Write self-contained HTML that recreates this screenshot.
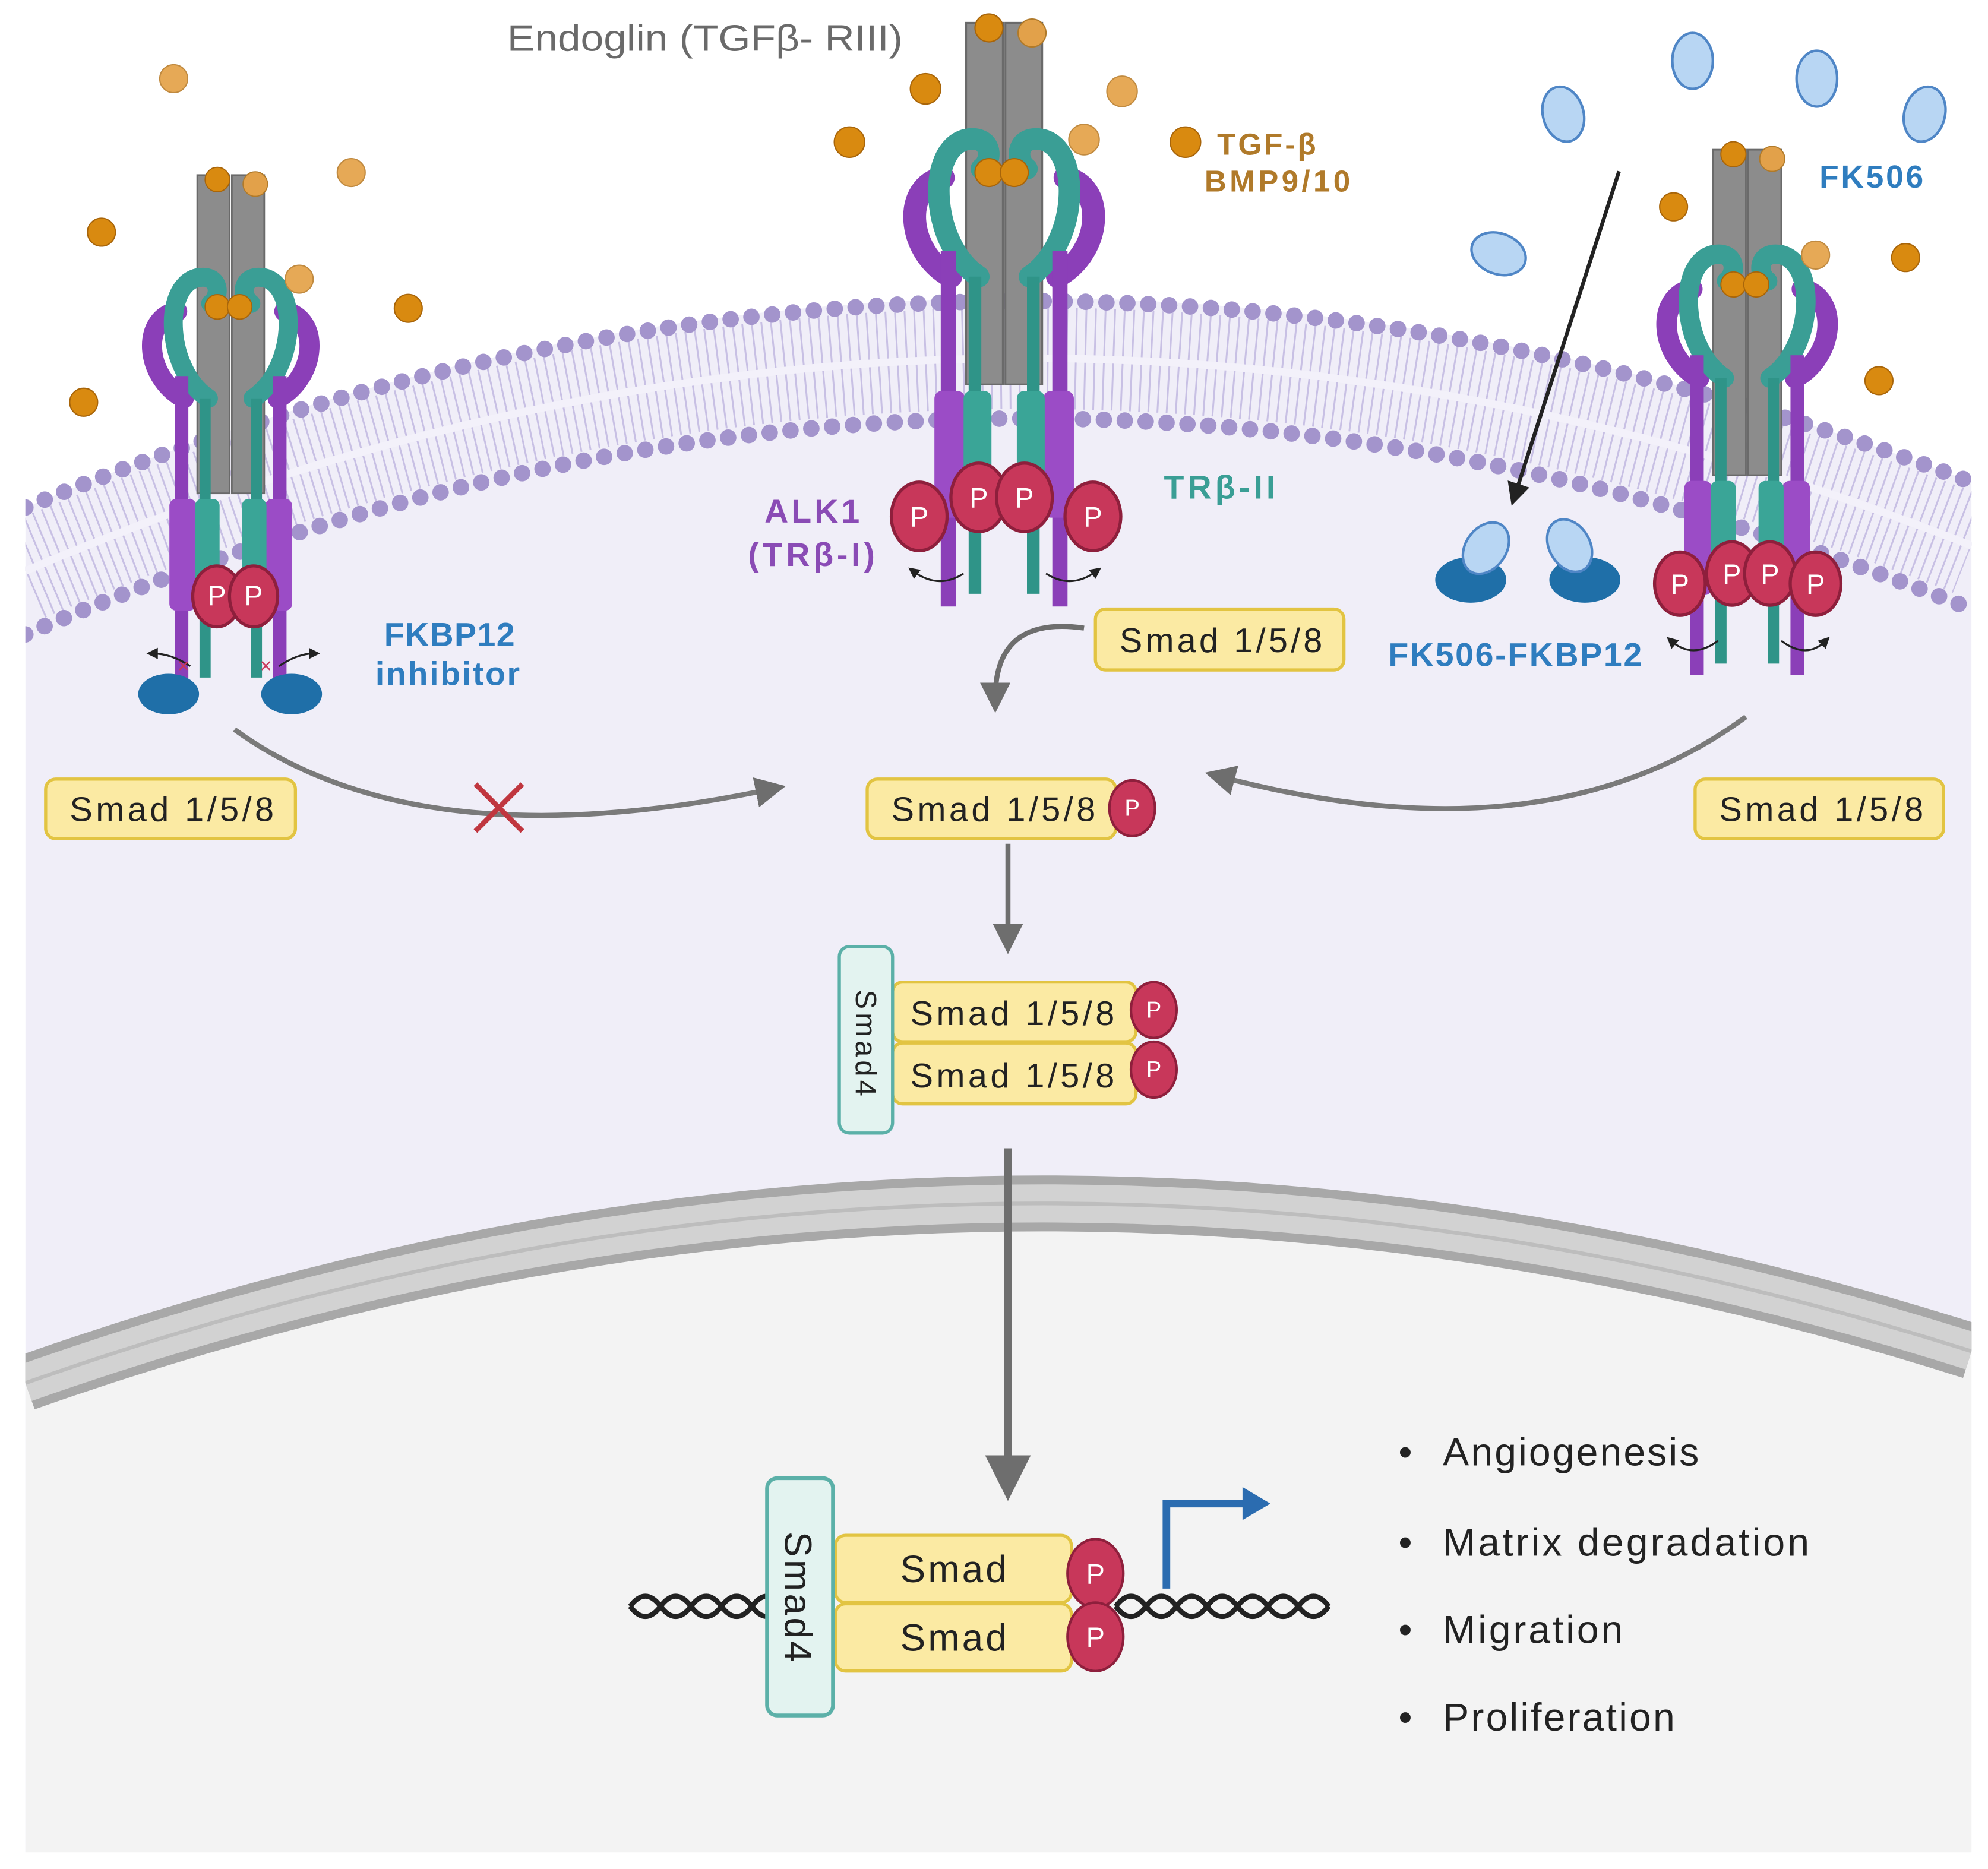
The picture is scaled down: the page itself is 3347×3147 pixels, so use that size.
<!DOCTYPE html>
<html><head><meta charset="utf-8"><style>
html,body{margin:0;padding:0;background:#fff}
svg{display:block}
text{font-family:"Liberation Sans","DejaVu Sans",sans-serif}
</style></head><body>
<svg width="3347" height="3147" viewBox="0 0 1568 1473" preserveAspectRatio="none" xmlns="http://www.w3.org/2000/svg">
<defs>
<clipPath id="cl"><rect x="20" y="0" width="1535" height="1460"/></clipPath>
<marker id="ag" markerWidth="6" markerHeight="6" refX="3" refY="3" orient="auto" markerUnits="strokeWidth"><path d="M0,0 L6,3 L0,6 z" fill="#6e6e6e"/></marker>
<marker id="ak" markerWidth="6" markerHeight="6" refX="3" refY="3" orient="auto" markerUnits="strokeWidth"><path d="M0,0 L6,3 L0,6 z" fill="#222"/></marker>
<g id="rec">
  <path d="M-42,200 C-78,180 -80,128 -48,122" fill="none" stroke="#8b3fb8" stroke-width="18" stroke-linecap="round"/>
  <path d="M42,200 C78,180 80,128 48,122" fill="none" stroke="#8b3fb8" stroke-width="18" stroke-linecap="round"/>
  <rect x="-30" y="0" width="29" height="285" fill="#8c8c8c" stroke="#6a6a6a" stroke-width="1.5"/>
  <rect x="1" y="0" width="29" height="285" fill="#8c8c8c" stroke="#6a6a6a" stroke-width="1.5"/>
  <path d="M-20,200 C-58,175 -62,100 -30,92 C-10,88 -8,108 -18,115" fill="none" stroke="#3a9e95" stroke-width="17" stroke-linecap="round"/>
  <path d="M20,200 C58,175 62,100 30,92 C10,88 8,108 18,115" fill="none" stroke="#3a9e95" stroke-width="17" stroke-linecap="round"/>
  <rect x="-50" y="180" width="12" height="280" fill="#8b3fb8"/>
  <rect x="38" y="180" width="12" height="280" fill="#8b3fb8"/>
  <rect x="-55" y="290" width="24" height="100" rx="6" fill="#9b4cc6"/>
  <rect x="31" y="290" width="24" height="100" rx="6" fill="#9b4cc6"/>
  <rect x="-28" y="200" width="10" height="250" fill="#2f9488"/>
  <rect x="18" y="200" width="10" height="250" fill="#2f9488"/>
  <rect x="-32" y="290" width="22" height="90" rx="6" fill="#3aa597"/>
  <rect x="10" y="290" width="22" height="90" rx="6" fill="#3aa597"/>
  <circle cx="-12" cy="118" r="11" fill="#d98a10" stroke="#a8650a"/>
  <circle cx="8" cy="118" r="11" fill="#d98a10" stroke="#a8650a"/>
  <circle cx="-12" cy="4" r="11" fill="#d98a10" stroke="#a8650a"/>
  <circle cx="22" cy="8" r="11" fill="#e2a14a" stroke="#b07a2a"/>
</g>
</defs>
<rect width="1568" height="1473" fill="#fff"/>
<g clip-path="url(#cl)">
<path d="M20,400 Q784,80 1555,380 L1555,1460 L20,1460 z" fill="#f0eef8"/>
<path d="M20,450 Q784,125 1555,430" fill="none" stroke="#c8c0e4" stroke-width="80" stroke-dasharray="1.4 6"/>
<path d="M20,450 Q784,125 1555,430" fill="none" stroke="#f3f1fa" stroke-width="6"/>
<path d="M20,400 Q784,85 1555,380" fill="none" stroke="#a394cc" stroke-width="13" stroke-linecap="round" stroke-dasharray="0 16.5"/>
<path d="M20,500 Q784,170 1555,480" fill="none" stroke="#a394cc" stroke-width="13" stroke-linecap="round" stroke-dasharray="0 16.5"/>
<path d="M20,1090 Q784,820 1555,1065 L1555,1460 L20,1460 z" fill="#f3f3f3"/>
<path d="M20,1090 Q784,820 1555,1065" fill="none" stroke="#a8a8a8" stroke-width="44"/>
<path d="M20,1090 Q784,820 1555,1065" fill="none" stroke="#d2d2d2" stroke-width="30"/>
<path d="M20,1090 Q784,820 1555,1065" fill="none" stroke="#bdbdbd" stroke-width="3"/>
</g>

<use href="#rec" transform="translate(792,18)"/>
<use href="#rec" transform="translate(182,138) scale(0.88)"/>
<use href="#rec" transform="translate(1378,118) scale(0.9)"/>

<g fill="#c8375a" stroke="#8e1f3c" stroke-width="2.5">
<ellipse cx="725" cy="407" rx="22" ry="27"/><ellipse cx="772" cy="392" rx="22" ry="27"/><ellipse cx="808" cy="392" rx="22" ry="27"/><ellipse cx="862" cy="407" rx="22" ry="27"/>
<ellipse cx="171" cy="470" rx="19" ry="24"/><ellipse cx="200" cy="470" rx="19" ry="24"/>
<ellipse cx="1325" cy="460" rx="20" ry="25"/><ellipse cx="1366" cy="452" rx="20" ry="25"/><ellipse cx="1396" cy="452" rx="20" ry="25"/><ellipse cx="1432" cy="460" rx="20" ry="25"/>
</g>
<g fill="#fff" font-size="22" text-anchor="middle">
<text x="725" y="415">P</text><text x="772" y="400">P</text><text x="808" y="400">P</text><text x="862" y="415">P</text>
<text x="171" y="477">P</text><text x="200" y="477">P</text>
<text x="1325" y="468">P</text><text x="1366" y="460">P</text><text x="1396" y="460">P</text><text x="1432" y="468">P</text>
</g>
<g fill="none" stroke="#222" stroke-width="1.5" marker-end="url(#ak)">
<path d="M760,452 Q740,465 720,450"/><path d="M825,452 Q845,465 865,450"/>
<path d="M1355,505 Q1335,520 1318,505"/><path d="M1405,505 Q1425,520 1440,505"/>
<path d="M150,525 Q135,515 120,515"/><path d="M220,525 Q235,515 248,515"/>
</g>
<text x="140" y="530" fill="#c8375a" font-size="16">×</text><text x="205" y="530" fill="#c8375a" font-size="16">×</text>

<ellipse cx="133" cy="547" rx="24" ry="16" fill="#1f6fa8"/><ellipse cx="230" cy="547" rx="24" ry="16" fill="#1f6fa8"/>
<ellipse cx="1160" cy="457" rx="28" ry="18" fill="#1f6fa8"/><ellipse cx="1250" cy="457" rx="28" ry="18" fill="#1f6fa8"/>
<g fill="#b8d6f3" stroke="#4f86c6" stroke-width="2">
<ellipse cx="1172" cy="432" rx="16" ry="22" transform="rotate(35 1172 432)"/>
<ellipse cx="1238" cy="430" rx="16" ry="22" transform="rotate(-30 1238 430)"/>
<ellipse cx="1335" cy="48" rx="16" ry="22"/><ellipse cx="1433" cy="62" rx="16" ry="22"/>
<ellipse cx="1518" cy="90" rx="16" ry="22" transform="rotate(15 1518 90)"/>
<ellipse cx="1233" cy="90" rx="16" ry="22" transform="rotate(-15 1233 90)"/>
<ellipse cx="1182" cy="200" rx="22" ry="16" transform="rotate(20 1182 200)"/>
</g>
<line x1="1277" y1="135" x2="1195" y2="390" stroke="#222" stroke-width="3" marker-end="url(#ak)"/>

<g fill="#d98a10" stroke="#a8650a" stroke-width="1">
<circle cx="80" cy="183" r="11"/><circle cx="322" cy="243" r="11"/><circle cx="66" cy="317" r="11"/>
<circle cx="730" cy="70" r="12"/><circle cx="670" cy="112" r="12"/><circle cx="935" cy="112" r="12"/>
<circle cx="1320" cy="163" r="11"/><circle cx="1503" cy="203" r="11"/><circle cx="1482" cy="300" r="11"/>
</g>
<g fill="#e6a956" stroke="#c08a40" stroke-width="1">
<circle cx="137" cy="62" r="11"/><circle cx="277" cy="136" r="11"/><circle cx="236" cy="220" r="11"/>
<circle cx="885" cy="72" r="12"/><circle cx="855" cy="110" r="12"/><circle cx="1432" cy="201" r="11"/>
</g>

<text x="400" y="40" fill="#6a6a6a" font-size="29" textLength="312" lengthAdjust="spacingAndGlyphs">Endoglin (TGFβ- RIII)</text>
<text x="960" y="122" fill="#b07a2a" font-size="24" font-weight="bold" textLength="78">TGF-β</text>
<text x="950" y="151" fill="#b07a2a" font-size="24" font-weight="bold" textLength="115">BMP9/10</text>
<text x="1435" y="148" fill="#2f7dbf" font-size="25" font-weight="bold" textLength="82">FK506</text>
<text x="603" y="412" fill="#8a4bb5" font-size="26" font-weight="bold" textLength="75">ALK1</text>
<text x="590" y="446" fill="#8a4bb5" font-size="26" font-weight="bold" textLength="100">(TRβ-I)</text>
<text x="918" y="393" fill="#3a9e95" font-size="26" font-weight="bold" textLength="88">TRβ-II</text>
<text x="303" y="509" fill="#2f7dbf" font-size="26" font-weight="bold" textLength="103">FKBP12</text>
<text x="296" y="540" fill="#2f7dbf" font-size="26" font-weight="bold" textLength="114">inhibitor</text>
<text x="1095" y="525" fill="#2f7dbf" font-size="26" font-weight="bold" textLength="200">FK506-FKBP12</text>

<g fill="none" stroke="#6e6e6e" stroke-width="4">
<path d="M855,495 Q785,485 785,550" marker-end="url(#ag)"/>
<path d="M185,575 Q330,680 608,622" marker-end="url(#ag)" stroke="#7a7a7a"/>
<path d="M1377,565 Q1220,680 962,612" marker-end="url(#ag)" stroke="#7a7a7a"/>
<path d="M795,665 L795,740" marker-end="url(#ag)"/>
<path d="M795,905 L795,1165" stroke-width="6" marker-end="url(#ag)"/>
</g>
<g stroke="#c0363f" stroke-width="4"><line x1="375" y1="618" x2="412" y2="655"/><line x1="412" y1="618" x2="375" y2="655"/></g>

<g fill="#fbeaa3" stroke="#e2c442" stroke-width="2.5">
<rect x="864" y="480" width="196" height="48" rx="8"/>
<rect x="36" y="614" width="197" height="47" rx="8"/>
<rect x="684" y="614" width="196" height="47" rx="8"/>
<rect x="1337" y="614" width="196" height="47" rx="8"/>
<rect x="704" y="774" width="192" height="47" rx="8"/>
<rect x="704" y="822" width="192" height="48" rx="8"/>
<rect x="659" y="1210" width="186" height="53" rx="8"/>
<rect x="659" y="1264" width="186" height="53" rx="8"/>
</g>
<g fill="#222" font-size="27">
<text x="883" y="514" textLength="160">Smad 1/5/8</text>
<text x="55" y="647" textLength="161">Smad 1/5/8</text>
<text x="703" y="647" textLength="161">Smad 1/5/8</text>
<text x="1356" y="647" textLength="161">Smad 1/5/8</text>
<text x="718" y="808" textLength="161">Smad 1/5/8</text>
<text x="718" y="857" textLength="161">Smad 1/5/8</text>
<text x="710" y="1247" font-size="30" textLength="84">Smad</text>
<text x="710" y="1301" font-size="30" textLength="84">Smad</text>
</g>
<rect x="662" y="746" width="42" height="147" rx="8" fill="#e3f3f0" stroke="#5bb0a8" stroke-width="2.5"/>
<text transform="translate(675,780) rotate(90)" font-size="23" fill="#222" textLength="84">Smad4</text>
<g fill="none" stroke="#222" stroke-width="4">
<path d="M497,1266 q12,-16 24,0 t24,0 t24,0 t24,0 t24,0"/>
<path d="M497,1266 q12,16 24,0 t24,0 t24,0 t24,0 t24,0"/>
<path d="M880,1266 q12,-16 24,0 t24,0 t24,0 t24,0 t24,0 t24,0 t24,0"/>
<path d="M880,1266 q12,16 24,0 t24,0 t24,0 t24,0 t24,0 t24,0 t24,0"/>
</g>
<rect x="605" y="1165" width="52" height="187" rx="8" fill="#e3f3f0" stroke="#5bb0a8" stroke-width="3"/>
<text transform="translate(619,1207) rotate(90)" font-size="30" fill="#222" textLength="103">Smad4</text>
<g fill="#c8375a" stroke="#8e1f3c" stroke-width="2">
<ellipse cx="893" cy="637" rx="18" ry="22"/>
<ellipse cx="910" cy="796" rx="18" ry="22"/><ellipse cx="910" cy="843" rx="18" ry="22"/>
<ellipse cx="864" cy="1240" rx="22" ry="27"/><ellipse cx="864" cy="1290" rx="22" ry="27"/>
</g>
<g fill="#fff" font-size="18" text-anchor="middle">
<text x="893" y="643">P</text><text x="910" y="802">P</text><text x="910" y="849">P</text>
<text x="864" y="1248" font-size="22">P</text><text x="864" y="1298" font-size="22">P</text>
</g>
<path d="M920,1252 L920,1185 L985,1185" fill="none" stroke="#2b6cb0" stroke-width="6"/>
<path d="M980,1172 L1002,1185 L980,1198 z" fill="#2b6cb0"/>
<g fill="#222" font-size="31">
<text x="1103" y="1155">•</text><text x="1138" y="1155" textLength="202">Angiogenesis</text>
<text x="1103" y="1226">•</text><text x="1138" y="1226" textLength="289">Matrix degradation</text>
<text x="1103" y="1295">•</text><text x="1138" y="1295" textLength="142">Migration</text>
<text x="1103" y="1364">•</text><text x="1138" y="1364" textLength="183">Proliferation</text>
</g>
</svg>
</body></html>
